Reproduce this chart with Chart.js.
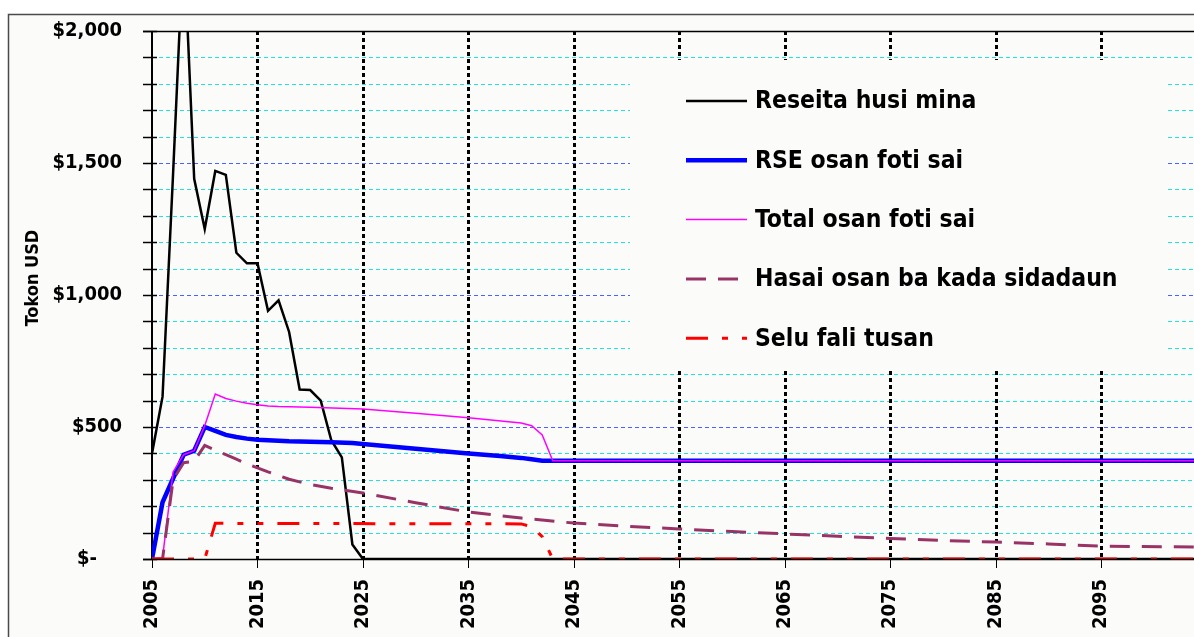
<!DOCTYPE html>
<html>
<head>
<meta charset="utf-8">
<script src="https://cdn.jsdelivr.net/npm/chart.js@4.4.1/dist/chart.umd.min.js"></script>
<style>
html,body{margin:0;padding:0;background:#fff;overflow:hidden;}
canvas{display:block;}
</style>
</head>
<body>
<canvas id="c" width="1194" height="637"></canvas>
<script>
// ---- data ----
const seriesLabels = ["Reseita husi mina", "RSE osan foti sai", "Total osan foti sai", "Hasai osan ba kada sidadaun", "Selu fali tusan"];

const mineYears  = [2005,2006,2007,2008,2009,2010,2011,2012,2013,2014,2015,2016,2017,2018,2019,2020,2021,2022,2023,2024,2025,2104];
const mineValues = [400, 615, 1460,2350,1440,1250,1470,1455,1160,1120,1120,940, 980, 860, 642, 640, 600, 450, 385, 55,  0,   0];

const rseYears  = [2005,2006,2007,2008,2009,2010,2011,2012,2013,2014,2015,2016,2017,2018,2019,2020,2022,2024,2025,2030,2035,2038,2040,2041,2042,2104];
const rseValues = [0,   215, 305, 395, 410, 500, 485, 470, 462, 456, 452, 450, 448, 446, 445, 444, 442, 439, 436, 418, 400, 390, 383, 378, 372, 372];

const totalYears  = [2005,2006,2007,2008,2009,2010,2011,2012,2013,2014,2015,2016,2017,2020,2025,2030,2035,2040,2041,2042,2043,2104];
const totalValues = [0,   5,   330, 395, 410, 505, 625, 608, 598, 590, 584, 580, 578, 575, 568, 552, 535, 515, 505, 470, 372, 372];

const spentYears  = [2005,2006,2007,2008,2009,2010,2011,2012,2013,2014,2015,2016,2017,2018,2019,2020,2022,2025,2030,2035,2040,2045,2050,2055,2060,2065,2070,2075,2080,2085,2090,2095,2104];
const spentValues = [0,   0,   300, 365, 370, 430, 412, 395, 378, 360, 345, 330, 316, 302, 292, 282, 268, 250, 213, 178, 155, 136, 124, 114, 104, 95,  86,  78,  70,  64,  57,  49,  45];

const returnYears  = [2005,2010,2011,2040,2041,2042,2043,2104];
const returnValues = [0,   0,   135, 133, 122, 85,  0,   0];

const yearTicks   = [2005,2015,2025,2035,2045,2055,2065,2075,2085,2095];
const yTickValues = [0, 500, 1000, 1500, 2000];
const yTickLabels = ["$-    ", "$500", "$1,000", "$1,500", "$2,000"];
const yAxisTitle  = "Tokon USD";

// ---- helpers ----
function pts(xs, ys){ return xs.map((x,i)=>({x:x, y:ys[i]})); }
const FAMILY = '"DejaVu Sans Condensed", "DejaVu Sans", sans-serif';
const W = 1194, H = 637;
const BG = '#fbfcfa';
const BOX = {l: 630, t: 60, r: 1168, b: 371};

function hSeg(ctx, x0, x1, y){ ctx.beginPath(); ctx.moveTo(x0, y); ctx.lineTo(x1, y); ctx.stroke(); }
function vSeg(ctx, x, y0, y1){ ctx.beginPath(); ctx.moveTo(x, y0); ctx.lineTo(x, y1); ctx.stroke(); }

const refPlugin = {
  id: 'ref',
  beforeDraw(chart){
    const ctx = chart.ctx;
    ctx.save();
    ctx.fillStyle = '#ffffff'; ctx.fillRect(0,0,W,H);
    ctx.fillStyle = BG; ctx.fillRect(8,14,W,H);
    ctx.strokeStyle = '#4a4a4a'; ctx.lineWidth = 1.5;
    ctx.strokeRect(8.5,14.5,W+20,H+20);
    ctx.restore();
  },
  beforeDatasetsDraw(chart){
    const {ctx, chartArea:a, scales} = chart;
    const xs = scales.x, ys = scales.y;
    ctx.save();
    // horizontal dashed grid, interrupted by the legend box
    ctx.lineWidth = 1;
    ctx.setLineDash([4,3]);
    for (let v = 100; v < 2000; v += 100){
      const py = Math.round(ys.getPixelForValue(v)) + 0.5;
      ctx.strokeStyle = (v % 500 === 0) ? '#4a62ff' : '#1fe3e3';
      if (py > BOX.t && py < BOX.b){
        hSeg(ctx, a.left + 7, BOX.l, py);
        hSeg(ctx, BOX.r, a.right, py);
      } else {
        hSeg(ctx, a.left + 7, a.right, py);
      }
    }
    // vertical dotted grid
    ctx.lineWidth = 3;
    ctx.setLineDash([4,3]);
    ctx.strokeStyle = '#000';
    yearTicks.slice(1).forEach(yr => {
      const px = Math.round(xs.getPixelForValue(yr)) + 0.5;
      if (px > BOX.l && px < BOX.r){
        vSeg(ctx, px, a.top, BOX.t);
        vSeg(ctx, px, BOX.b, a.bottom);
      } else {
        vSeg(ctx, px, a.top, a.bottom);
      }
    });
    ctx.setLineDash([]);
    // axes
    ctx.strokeStyle = '#000';
    ctx.lineWidth = 2;
    vSeg(ctx, a.left, a.top, a.bottom);
    ctx.lineWidth = 1.5;
    const ty = Math.round(ys.getPixelForValue(2000)) + 0.5;
    hSeg(ctx, a.left - 9, a.right, ty);
    for (let v = 0; v <= 2000; v += 100){
      const py = Math.round(ys.getPixelForValue(v)) + 0.5;
      hSeg(ctx, a.left - 9, a.left + 5, py);
    }
    ctx.lineWidth = 1;
    yearTicks.forEach(yr => {
      const px = Math.round(xs.getPixelForValue(yr)) + 0.5;
      vSeg(ctx, px, a.bottom, a.bottom + 9);
    });
    // legend
    ctx.font = 'bold 24.5px ' + FAMILY;
    ctx.textBaseline = 'middle';
    ctx.textAlign = 'left';
    chart.data.datasets.forEach((ds, i) => {
      const ly = 101 + i * 59.3;
      ctx.save();
      ctx.strokeStyle = ds.borderColor;
      ctx.lineWidth = ds.borderWidth;
      ctx.setLineDash(ds.borderDash || []);
      hSeg(ctx, 686, 747, ly);
      ctx.restore();
      ctx.fillStyle = '#000';
      ctx.fillText(ds.label, 755, ly + 1);
    });
    ctx.restore();
  },
  afterDatasetsDraw(chart){
    const {ctx, chartArea:a} = chart;
    ctx.save();
    ctx.strokeStyle = '#000'; ctx.lineWidth = 1.5;
    hSeg(ctx, a.left - 9, a.right, Math.round(a.bottom) + 0.5);
    ctx.translate(33, 278);
    ctx.rotate(-Math.PI/2);
    ctx.font = 'bold 18px ' + FAMILY;
    ctx.fillStyle = '#000';
    ctx.textAlign = 'center'; ctx.textBaseline = 'middle';
    ctx.fillText(yAxisTitle, 0, 0);
    ctx.restore();
  }
};

const tickFont = {family: FAMILY, size: 20, weight: 'bold'};

new Chart(document.getElementById('c'), {
  type: 'line',
  data: {
    datasets: [
      {label: seriesLabels[0], data: pts(mineYears, mineValues),   borderColor: '#000000', borderWidth: 2.5, order: 5},
      {label: seriesLabels[1], data: pts(rseYears, rseValues),     borderColor: '#0000ff', borderWidth: 4.5, order: 4},
      {label: seriesLabels[2], data: pts(totalYears, totalValues), borderColor: '#ff00ff', borderWidth: 1.5, order: 3},
      {label: seriesLabels[3], data: pts(spentYears, spentValues), borderColor: '#993366', borderWidth: 3, borderDash: [20,12], order: 2},
      {label: seriesLabels[4], data: pts(returnYears, returnValues), borderColor: '#ff0000', borderWidth: 3, borderDash: [22,14,6,14,6,14], order: 1}
    ]
  },
  options: {
    responsive: false,
    animation: false,
    devicePixelRatio: 1,
    layout: {padding: {top: 31, left: 0, right: 0, bottom: 0}},
    elements: {point: {radius: 0}, line: {tension: 0, fill: false, borderCapStyle: 'butt', borderJoinStyle: 'miter'}},
    plugins: {legend: {display: false}, tooltip: {enabled: false}},
    scales: {
      x: {
        type: 'linear', min: 2005, max: 2103.8,
        afterBuildTicks: s => { s.ticks = yearTicks.map(v => ({value: v})); },
        afterFit: s => { s.height = 78; },
        grid: {display: false, drawTicks: false},
        border: {display: false},
        ticks: {autoSkip: false, minRotation: 90, maxRotation: 90, padding: 20, color: '#000', font: tickFont,
                callback: v => String(v)}
      },
      y: {
        type: 'linear', min: 0, max: 2000,
        afterBuildTicks: s => { s.ticks = yTickValues.map(v => ({value: v})); },
        afterFit: s => { s.width = 152; },
        grid: {display: false, drawTicks: true, tickLength: 24},
        border: {display: false},
        ticks: {padding: 6, color: '#000', font: tickFont,
                callback: v => yTickLabels[yTickValues.indexOf(v)]}
      }
    }
  },
  plugins: [refPlugin]
});
</script>
</body>
</html>
